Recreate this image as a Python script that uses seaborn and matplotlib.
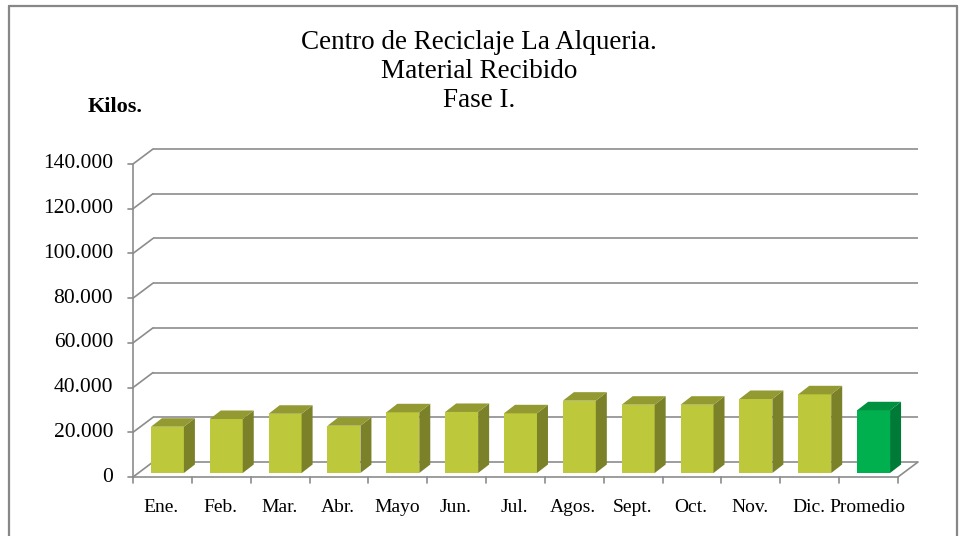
import matplotlib
matplotlib.use("Agg")
import matplotlib.pyplot as plt
from matplotlib.patches import Polygon
from matplotlib.lines import Line2D
import numpy as np
import pandas as pd
import seaborn as sns

# Monthly material received (kg), plus the average
meses = ["Ene.", "Feb.", "Mar.", "Abr.", "Mayo", "Jun.", "Jul.",
         "Agos.", "Sept.", "Oct.", "Nov.", "Dic.", "Promedio"]
kilos = [20700, 24150, 26500, 21150, 27150, 27300, 26700,
         32350, 30550, 30550, 33100, 35200, 28050]
y_ticks = [0, 20000, 40000, 60000, 80000, 100000, 120000, 140000]
y_tick_labels = ["0", "20.000", "40.000", "60.000", "80.000",
                 "100.000", "120.000", "140.000"]
titulo = ["Centro de Reciclaje La Alqueria.", "Material Recibido", "Fase I."]

# face colours: front / side / top
olive = ("#bdc83a", "#7b8128", "#939a31")
verde = ("#00b04f", "#007a37", "#009140")
estilos = [verde if m == "Promedio" else olive for m in meses]

sns.set_theme(style="white")
plt.rcParams["font.family"] = ["Liberation Serif", "DejaVu Serif"]

W, H = 961, 536
fig = plt.figure(figsize=(W / 100, H / 100), dpi=100)
fig.patch.set_facecolor("white")

# front plane of the plot box in pixels
x0p, x1p, y0p, y1p = 133, 898, 477, 164
ax = fig.add_axes([x0p / W, (H - y0p) / H, (x1p - x0p) / W, (y0p - y1p) / H])
ax.set_xlim(-0.5, len(meses) - 0.5)
ax.set_ylim(0, 140000)
ax.axis("off")

# pixel -> data conversion
sx = len(meses) / (x1p - x0p)
sy = 140000 / (y0p - y1p)
back_dx, back_dy = 20 * sx, 15 * sy        # depth of the back wall
gris = "#8c8c8c"
lw = 1.2

xl, xr = -0.5, len(meses) - 0.5
# back wall gridlines + left wall diagonals + y ticks
for v in y_ticks:
    ax.plot([xl + back_dx, xr + back_dx], [v + back_dy, v + back_dy],
            color=gris, lw=lw, clip_on=False, zorder=1, solid_capstyle="butt")
    ax.plot([xl, xl + back_dx], [v, v + back_dy], color=gris, lw=lw,
            clip_on=False, zorder=1)
    ax.plot([xl - 5 * sx, xl], [v, v], color=gris, lw=lw, clip_on=False, zorder=1)
# front vertical axis
ax.plot([xl, xl], [0, 140000], color=gris, lw=lw, clip_on=False, zorder=1)
# floor: front edge, right diagonal, category ticks
ax.plot([xl, xr], [0, 0], color=gris, lw=lw, clip_on=False, zorder=1)
ax.plot([xr, xr + back_dx], [0, back_dy], color=gris, lw=lw, clip_on=False, zorder=1)
for i in range(len(meses) + 1):
    xb = xl + i
    ax.plot([xb, xb], [0, -6 * sy], color=gris, lw=lw, clip_on=False, zorder=1)

# bars (front faces)
df = pd.DataFrame({"mes": meses, "kilos": kilos})
sns.barplot(data=df, x="mes", y="kilos", hue="mes",
            palette=[e[0] for e in estilos], width=0.56, saturation=1,
            legend=False, ax=ax, zorder=3)
ax.set_xlim(-0.5, len(meses) - 0.5)
ax.set_ylim(0, 140000)
ax.axis("off")

# bars sit a quarter of the way into the floor; depth is half of it
off_dx, off_dy = 5 * sx, 4 * sy
dep_dx, dep_dy = 11 * sx, 8.5 * sy
bars = sorted(ax.patches, key=lambda p: p.get_x())
for bar, est in zip(bars, estilos):
    bx = bar.get_x() + off_dx
    bw = bar.get_width()
    bh = bar.get_height()
    bar.set_x(bx)
    bar.set_y(off_dy)
    bar.set_edgecolor("none")
    bar.set_clip_on(False)
    base = off_dy
    top = off_dy + bh
    side = Polygon([[bx + bw, base], [bx + bw, top],
                    [bx + bw + dep_dx, top + dep_dy], [bx + bw + dep_dx, base + dep_dy]],
                   closed=True, facecolor=est[1], edgecolor="none", zorder=3, clip_on=False)
    cap = Polygon([[bx, top], [bx + bw, top],
                   [bx + bw + dep_dx, top + dep_dy], [bx + dep_dx, top + dep_dy]],
                  closed=True, facecolor=est[2], edgecolor="none", zorder=3, clip_on=False)
    ax.add_patch(side)
    ax.add_patch(cap)

# tick labels
for v, lab in zip(y_ticks, y_tick_labels):
    ax.text(xl - 20 * sx, v, lab, ha="right", va="center", fontsize=15.5,
            color="black", clip_on=False)
for i, m in enumerate(meses):
    ax.text(i - 1 * sx, -31 * sy, m, ha="center", va="center", fontsize=14,
            color="black", clip_on=False)

# titles
for txt, yb in zip(titulo, [49, 78, 107]):
    fig.text(479 / W, (H - yb) / H, txt, ha="center", va="baseline",
             fontsize=19.5, color="black")
fig.text(88 / W, (H - 112) / H, "Kilos.", ha="left", va="baseline",
         fontsize=16, fontweight="bold", color="black")

# outer frame (open at the bottom)
fc = "#878787"
fig.add_artist(Line2D([9 / W, 9 / W], [0, (H - 6) / H], color=fc, lw=1.6,
                      transform=fig.transFigure))
fig.add_artist(Line2D([9 / W, 957 / W], [(H - 6) / H, (H - 6) / H], color=fc, lw=1.6,
                      transform=fig.transFigure))
fig.add_artist(Line2D([957 / W, 957 / W], [0, (H - 6) / H], color=fc, lw=1.6,
                      transform=fig.transFigure))

fig.savefig("out.png", dpi=100)
